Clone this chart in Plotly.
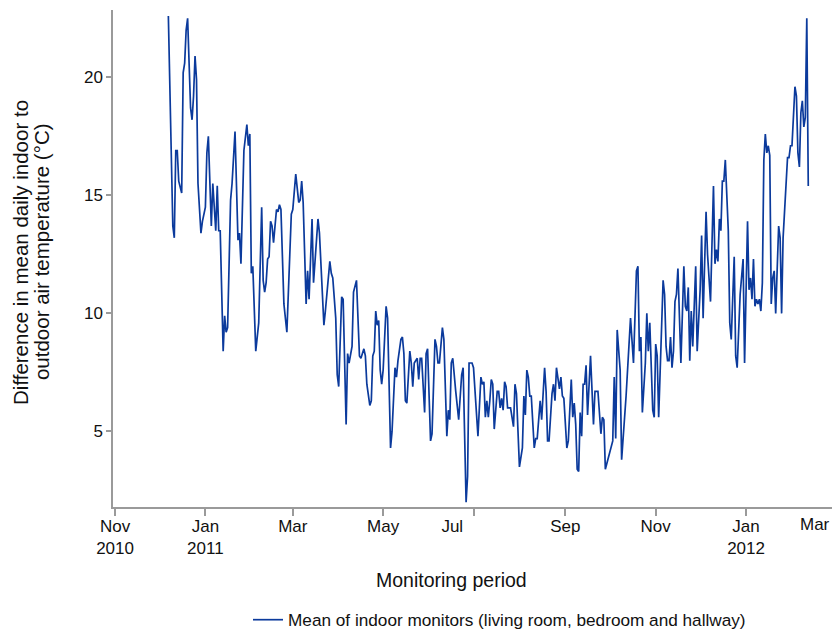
import pandas as pd
import plotly.graph_objects as go

# ---- data ----
study_start = "2010-11-01"
# day number since study_start for each reading
day_number = [
    36, 39, 40, 41, 42, 43, 45, 46, 47, 48, 49, 51, 52, 53, 54, 55, 56, 58, 59, 61,
    62, 63, 65, 66, 68, 69, 70, 71, 73, 74, 75, 76, 78, 79, 81, 83, 84, 85, 87, 88,
    89, 90, 91, 92, 93, 95, 97, 99, 100, 101, 102, 103, 104, 105, 106, 107, 109, 110, 111, 112,
    114, 116, 118, 119, 120, 121, 122, 124, 125, 126, 127, 129, 130, 131, 133, 134, 137, 138, 140, 141,
    142, 143, 145, 146, 147, 149, 150, 151, 153, 154, 156, 157, 158, 160, 161, 163, 165, 166, 168, 169,
    170, 172, 173, 174, 175, 176, 177, 178, 179, 180, 181, 183, 184, 186, 187, 189, 190, 191, 193, 194,
    195, 196, 197, 199, 200, 201, 202, 204, 205, 206, 207, 209, 210, 211, 213, 214, 216, 217, 218, 219,
    221, 222, 224, 225, 226, 227, 228, 230, 232, 234, 235, 237, 238, 239, 241, 242, 245, 247, 248, 249,
    250, 251, 252, 253, 254, 255, 256, 258, 259, 260, 261, 262, 263, 264, 265, 267, 269, 270, 271, 273,
    275, 276, 277, 278, 279, 280, 281, 283, 284, 285, 287, 288, 290, 291, 292, 293, 295, 296, 297, 298,
    300, 301, 302, 303, 305, 306, 308, 309, 310, 311, 312, 313, 314, 315, 316, 317, 318, 319, 321, 323,
    324, 326, 328, 329, 330, 331, 334, 336, 337, 338, 339, 341, 342, 345, 348, 350, 352, 353, 354, 355,
    356, 358, 359, 360, 361, 363, 364, 365, 366, 367, 370, 371, 372, 373, 374, 375, 376, 377, 378, 379,
    380, 382, 384, 385, 386, 387, 388, 389, 390, 392, 393, 395, 396, 397, 399, 400, 402, 404, 405, 406,
    407, 408, 409, 410, 411, 412, 414, 415, 416, 418, 419, 420, 422, 424, 425, 427, 428, 429, 430, 431,
    432, 433, 434, 435, 436, 437, 438, 439, 440, 441, 442, 443, 444, 445, 446, 448, 449, 450, 451, 453,
    454, 455, 456, 457, 459, 460, 461, 462, 463, 464, 465, 466, 467, 468,
]
# difference in mean daily indoor to outdoor air temperature (deg C)
temp_difference = [
    22.6, 13.7, 13.2, 16.9, 16.9, 15.6, 15.1, 20.2, 20.6, 22.0, 22.5, 18.7, 18.2, 19.2, 20.9, 19.9, 15.5, 13.4, 13.9, 14.5,
    16.8, 17.5, 13.7, 15.5, 13.5, 15.4, 13.5, 13.5, 8.4, 9.9, 9.2, 9.4, 14.8, 15.5, 17.7, 13.1, 13.4, 12.1, 16.9, 17.6,
    18.0, 17.1, 17.6, 11.7, 12.0, 8.4, 9.6, 14.5, 11.4, 10.9, 11.3, 12.3, 12.4, 13.9, 13.7, 13.0, 14.4, 14.3, 14.6, 14.4,
    10.4, 9.2, 13.1, 14.2, 14.4, 15.1, 15.9, 14.7, 14.8, 15.6, 14.7, 10.4, 11.8, 10.6, 14.0, 11.3, 14.0, 13.4, 10.3, 9.5,
    10.1, 10.7, 12.2, 11.7, 11.5, 9.8, 7.4, 6.9, 10.7, 10.6, 5.3, 8.3, 7.9, 8.6, 10.9, 11.4, 8.2, 8.1, 8.5, 8.2,
    7.0, 6.1, 6.3, 8.2, 8.4, 10.1, 9.5, 9.7, 7.6, 7.0, 7.6, 10.3, 9.8, 4.3, 5.0, 7.7, 7.3, 8.0, 8.9, 9.0,
    8.3, 6.3, 6.2, 8.4, 7.9, 6.9, 7.9, 8.1, 7.2, 8.1, 8.1, 5.8, 8.3, 8.5, 4.6, 4.9, 8.9, 8.6, 7.9, 7.9,
    9.4, 8.9, 4.8, 5.9, 5.5, 7.9, 8.1, 6.7, 5.5, 7.4, 7.7, 2.0, 3.1, 7.9, 7.9, 7.7, 4.8, 7.3, 7.0, 7.1,
    5.6, 6.3, 5.6, 6.3, 7.2, 7.0, 5.1, 6.7, 6.7, 6.0, 6.4, 5.9, 7.1, 6.9, 6.0, 6.0, 5.2, 7.0, 6.6, 3.5,
    4.3, 6.5, 5.7, 7.6, 7.3, 6.5, 6.5, 4.3, 4.7, 4.7, 6.3, 5.5, 7.7, 6.7, 4.6, 4.6, 6.6, 7.0, 6.3, 7.7,
    6.8, 7.3, 6.5, 6.4, 4.3, 4.6, 7.2, 5.6, 6.2, 5.3, 3.4, 3.3, 5.8, 4.8, 7.0, 7.0, 7.8, 5.7, 8.2, 5.3,
    6.7, 6.7, 4.9, 5.6, 5.5, 3.4, 4.1, 4.6, 7.3, 4.7, 9.3, 7.6, 3.8, 6.5, 9.8, 7.9, 11.8, 12.0, 8.4, 9.0,
    5.8, 7.9, 10.0, 8.4, 9.6, 5.9, 5.6, 8.7, 8.2, 5.6, 11.4, 10.8, 8.6, 8.0, 8.0, 9.0, 7.7, 8.4, 10.5, 10.8,
    11.9, 7.9, 12.0, 10.3, 10.1, 11.1, 8.0, 10.1, 8.6, 12.0, 8.4, 11.0, 13.3, 9.8, 14.3, 12.5, 10.5, 15.4, 12.1, 12.7,
    12.2, 14.0, 13.5, 15.6, 15.6, 16.5, 13.5, 9.6, 8.9, 12.4, 8.2, 7.7, 10.8, 12.3, 7.9, 13.9, 11.0, 11.5, 10.6, 12.3,
    10.3, 10.6, 10.4, 10.6, 10.1, 11.3, 16.5, 17.6, 16.8, 17.1, 16.7, 10.4, 11.5, 11.8, 10.0, 13.7, 13.2, 10.0, 13.2, 15.5,
    16.6, 16.6, 17.1, 17.1, 19.6, 19.2, 16.8, 16.2, 18.5, 19.0, 17.9, 18.3, 22.5, 15.4,
]
series_name = "Mean of indoor monitors (living room, bedroom and hallway)"

# axis ticks
NBSP = "\u00a0"
tick_dates = ["2010-11-01", "2011-01-01", "2011-03-01", "2011-05-01", "2011-07-01",
              "2011-09-01", "2011-11-01", "2012-01-01", "2012-03-01"]
tick_labels = ["Nov<br>2010", "Jan<br>2011", "Mar", "May", "Jul" + NBSP * 9,
               "Sep", "Nov", "Jan<br>2012", ""]
edge_label = "Mar"          # label of the last tick, sits against the right edge
y_ticks = [5, 10, 15, 20]
x_range = ["2010-10-30 15:00", "2012-03-04 10:00"]
y_range = [1.8, 22.85]

dates = pd.Timestamp(study_start) + pd.to_timedelta(day_number, unit="D")

FONT = "Arial, 'Liberation Sans', Helvetica, sans-serif"
AXIS_GREY = "#9a9a9a"
LINE_BLUE = "#0b3a9c"
TEXT = "#111111"

fig = go.Figure()
fig.add_trace(go.Scatter(
    x=dates, y=temp_difference, mode="lines", name=series_name,
    line=dict(color=LINE_BLUE, width=1.7), showlegend=True,
))

fig.update_layout(
    template="none",
    width=840, height=632,
    # the page body adds an 8px offset, so margins compensate for it
    margin=dict(l=105, r=8, t=2, b=133, pad=0),
    paper_bgcolor="white", plot_bgcolor="white",
    font=dict(family=FONT, size=17, color=TEXT),
    showlegend=True,
    legend=dict(orientation="h", x=0.1857, xanchor="left", y=-0.2274, yanchor="middle",
                font=dict(size=17.2, family=FONT, color=TEXT),
                bgcolor="rgba(0,0,0,0)", borderwidth=0),
    xaxis=dict(
        type="date", range=x_range, showgrid=False, zeroline=False, automargin=False,
        showline=True, linecolor=AXIS_GREY, linewidth=1.5,
        ticks="outside", ticklen=7, tickwidth=1.5, tickcolor=AXIS_GREY,
        tickvals=tick_dates, ticktext=tick_labels, ticklabeloverflow="allow",
        ticklabelstandoff=-4,
        tickfont=dict(size=17, family=FONT, color=TEXT),
    ),
    yaxis=dict(
        range=y_range, showgrid=False, zeroline=False, automargin=False,
        showline=True, linecolor=AXIS_GREY, linewidth=1.5,
        ticks="outside", ticklen=5, tickwidth=1.5, tickcolor=AXIS_GREY,
        tickvals=y_ticks, tickfont=dict(size=17, family=FONT, color=TEXT),
    ),
    annotations=[
        dict(text=edge_label, xref="x", yref="paper", x=x_range[1], y=-0.0362,
             xanchor="right", yanchor="middle", xshift=-8, showarrow=False,
             font=dict(size=17, family=FONT, color=TEXT)),
        dict(text="Monitoring period", xref="paper", yref="paper", x=0.466, y=-0.147,
             xanchor="center", yanchor="middle", showarrow=False,
             font=dict(size=19.5, family=FONT, color=TEXT)),
        dict(text="Difference in mean daily indoor to", xref="paper", yref="paper",
             x=-0.128, y=0.513, xanchor="center", yanchor="middle",
             textangle=-90, showarrow=False,
             font=dict(size=20.5, family=FONT, color=TEXT)),
        dict(text="outdoor air temperature (°C)", xref="paper", yref="paper",
             x=-0.099, y=0.513, xanchor="center", yanchor="middle",
             textangle=-90, showarrow=False,
             font=dict(size=20.5, family=FONT, color=TEXT)),
    ],
)

fig.write_html("out.html")
